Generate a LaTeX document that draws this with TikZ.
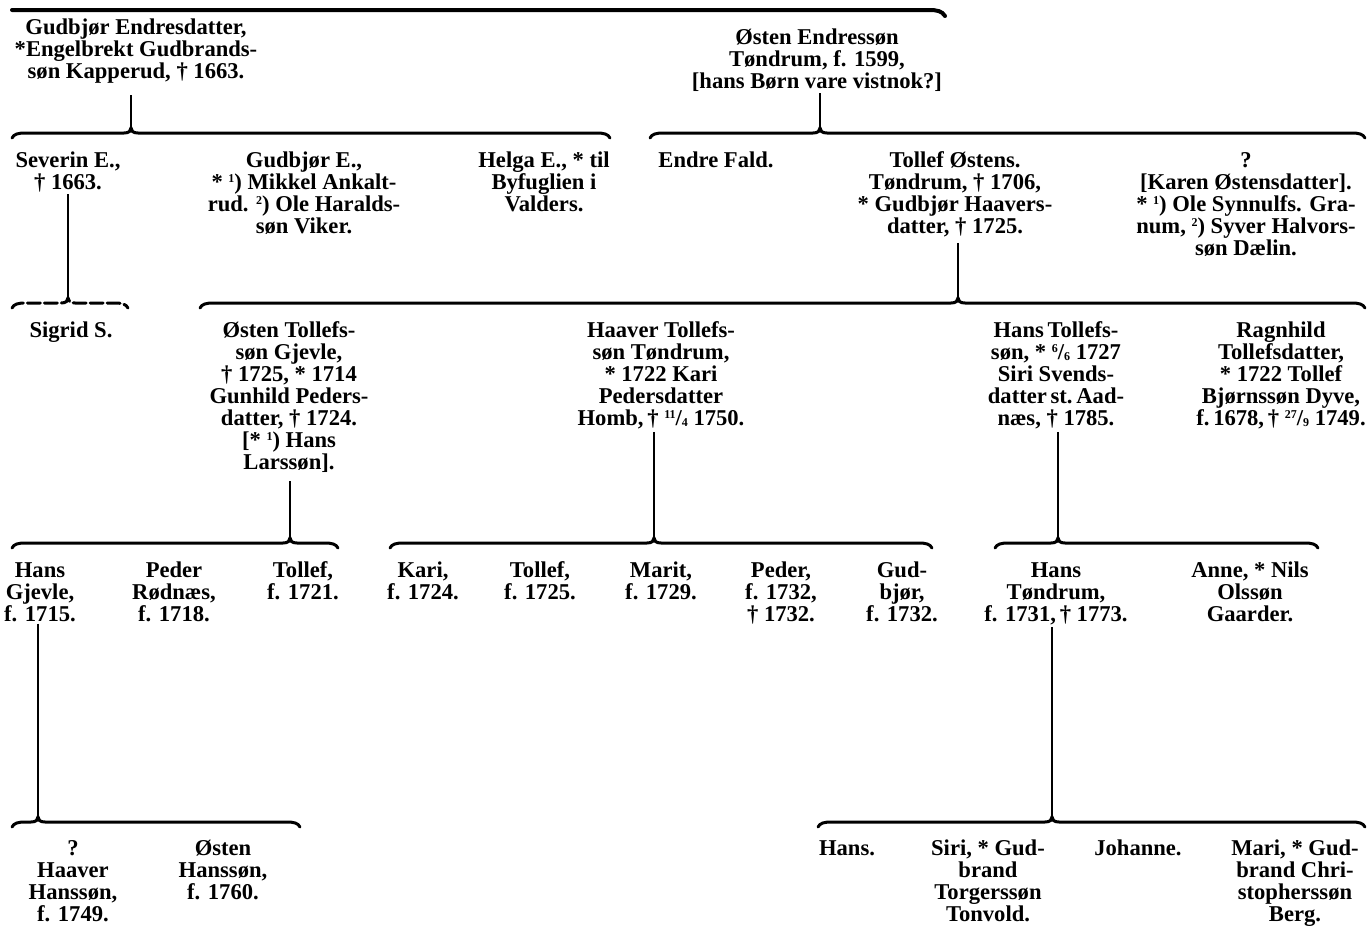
\documentclass[tikz,border=0pt]{standalone}
\usepackage{fontspec}
\setmainfont{Liberation Serif}
\newcommand\topstrut{\rule{0pt}{17pt}}
\newcommand\upnum[1]{\raisebox{7pt}{\fontsize{12}{12}\selectfont #1}}
\newcommand\dnnum[1]{\raisebox{-1pt}{\fontsize{12}{12}\selectfont #1}}
% #1 extra style, #2 name, #3 x left, #4 x notch, #5 x right, #6 y
\newcommand\famline[6][]{%
  \draw[famline,#1] (#3,#6+5) .. controls (#3+2,#6+1) and (#3+6,#6) .. (#3+14,#6)
    -- (#4-7,#6) .. controls (#4-2,#6) and (#4,#6-2) .. (#4,#6-5)
    .. controls (#4,#6-2) and (#4+2,#6) .. (#4+7,#6)
    -- (#5-14,#6) .. controls (#5-6,#6) and (#5-2,#6+1) .. (#5,#6+5);
  \coordinate (#2) at (#4,#6-5);}
\tikzset{
  person/.style={align=center, inner sep=0pt, anchor=north,
    font=\bfseries\fontsize{22.6}{22}\selectfont},
  famline/.style={line width=3pt, line cap=round},
  vline/.style={line width=2.5pt},
}
\begin{document}
\begin{tikzpicture}[x=1pt,y=-1pt]
\useasboundingbox (0,0) rectangle (1369,926);

% top rule
\draw[famline,line width=4pt] (12,10) -- (929,10) .. controls (937,10) and (942,11) .. (945,16);

% level 0
\node[person] (a0) at (136,17) {\topstrut Gudbjør Endresdatter,\\*Engelbrekt Gudbrands-\\søn Kapperud, † 1663.};
\node[person] (b0) at (817,27) {\topstrut Østen Endressøn\\Tøndrum, f. 1599,\\{[}hans Børn vare vistnok?]};

% level 1 lines
\famline{n1a}{12}{131}{610}{133}
\famline{n1b}{650}{820}{1365}{133}
\draw[vline,shorten <=12pt] (a0.south -| n1a) -- (n1a);
\draw[vline,shorten <=2pt] (b0.south -| n1b) -- (n1b);

% level 1
\node[person] (s1) at (68,150) {\topstrut Severin E.,\\† 1663.};
\node[person] (g1) at (304,150) {\topstrut Gudbjør E.,\\* \upnum{1}) Mikkel Ankalt-\\rud. \upnum{2}) Ole Haralds-\\søn Viker.};
\node[person] (h1) at (544,150) {\topstrut Helga E., * til\\Byfuglien i\\Valders.};
\node[person] (e1) at (716,150) {\topstrut Endre Fald.};
\node[person] (t1) at (955,150) {\topstrut Tollef Østens.\\Tøndrum, † 1706,\\* Gudbjør Haavers-\\datter, † 1725.};
\node[person] (k1) at (1246,150) {\topstrut ?\\{[}Karen Østensdatter].\\* \upnum{1}) Ole Synnulfs. Gra-\\num, \upnum{2}) Syver Halvors-\\søn Dælin.};

% level 2 lines
\famline[dash pattern=on 13pt off 4pt]{n2a}{12}{68}{128}{303}
\famline{n2b}{200}{958}{1365}{303}
\draw[vline,shorten <=2pt] (s1.south -| n2a) -- (n2a);
\draw[vline,shorten <=6pt] (t1.south -| n2b) -- (n2b);

% level 2
\node[person] (sg2) at (71,320) {\topstrut Sigrid S.};
\node[person] (o2) at (289,320) {\topstrut Østen Tollefs-\\søn Gjevle,\\† 1725, * 1714\\Gunhild Peders-\\datter, † 1724.\\{[}* \upnum{1}) Hans\\Larssøn].};
\node[person] (hv2) at (661,320) {\topstrut Haaver Tollefs-\\søn Tøndrum,\\* 1722 Kari\\Pedersdatter\\Homb,\,† \upnum{11}/\dnnum{4} 1750.};
\node[person] (ht2) at (1056,320) {\topstrut Hans\,Tollefs-\\søn, * \upnum{6}/\dnnum{6} 1727\\Siri Svends-\\datter\,st.\,Aad-\\næs, † 1785.};
\node[person] (r2) at (1281,320) {\topstrut Ragnhild\\Tollefsdatter,\\* 1722 Tollef\\Bjørnssøn Dyve,\\f.\,1678,\,† \upnum{27}/\dnnum{9} 1749.};

% level 3 lines
\famline{n3a}{12}{290}{338}{543}
\famline{n3b}{390}{654}{932}{543}
\famline{n3c}{995}{1058}{1318}{543}
\draw[vline,shorten <=9pt] (o2.south -| n3a) -- (n3a);
\draw[vline,shorten <=3pt] (hv2.south -| n3b) -- (n3b);
\draw[vline,shorten <=3pt] (ht2.south -| n3c) -- (n3c);

% level 3
\node[person] (hg3) at (40,560) {\topstrut Hans\\Gjevle,\\f. 1715.};
\node[person] (pr3) at (174,560) {\topstrut Peder\\Rødnæs,\\f. 1718.};
\node[person] (tl3) at (303,560) {\topstrut Tollef,\\f. 1721.};
\node[person] (ka3) at (423,560) {\topstrut Kari,\\f. 1724.};
\node[person] (tf3) at (540,560) {\topstrut Tollef,\\f. 1725.};
\node[person] (ma3) at (661,560) {\topstrut Marit,\\f. 1729.};
\node[person] (pd3) at (781,560) {\topstrut Peder,\\f. 1732,\\† 1732.};
\node[person] (gb3) at (902,560) {\topstrut Gud-\\bjør,\\f. 1732.};
\node[person] (htd3) at (1056,560) {\topstrut Hans\\Tøndrum,\\f. 1731,\,† 1773.};
\node[person] (an3) at (1250,560) {\topstrut Anne, * Nils\\Olssøn\\Gaarder.};

% level 4 lines
\famline{n4a}{12}{38}{300}{822}
\famline{n4b}{818}{1052}{1365}{822}
\draw[vline,shorten <=2pt] (hg3.south -| n4a) -- (n4a);
\draw[vline,shorten <=2pt] (htd3.south -| n4b) -- (n4b);

% level 4
\node[person] (hh4) at (73,838) {\topstrut ?\\Haaver\\Hanssøn,\\f. 1749.};
\node[person] (oh4) at (223,838) {\topstrut Østen\\Hanssøn,\\f. 1760.};
\node[person] (hs4) at (847,838) {\topstrut Hans.};
\node[person] (si4) at (988,838) {\topstrut Siri, * Gud-\\brand\\Torgerssøn\\Tonvold.};
\node[person] (jo4) at (1138,838) {\topstrut Johanne.};
\node[person] (mr4) at (1295,838) {\topstrut Mari, * Gud-\\brand Chri-\\stopherssøn\\Berg.};
\end{tikzpicture}
\end{document}
